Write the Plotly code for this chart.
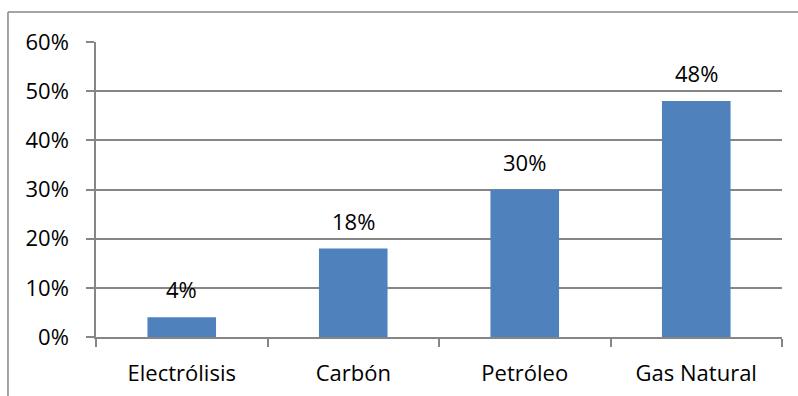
import plotly.graph_objects as go

# Hydrogen production share by source
categories = ["Electrólisis", "Carbón", "Petróleo", "Gas Natural"]
shares = [0.04, 0.18, 0.30, 0.48]
tick_values = [0, 0.1, 0.2, 0.3, 0.4, 0.5, 0.6]
tick_labels = ["0%", "10%", "20%", "30%", "40%", "50%", "60%"]

BAR_COLOR = "#4F81BD"
GRID = "#868686"
FONT = "Open Sans"
FSIZE = 22

fig = go.Figure()
fig.add_trace(go.Bar(
    x=categories,
    y=shares,
    marker=dict(color=BAR_COLOR, line=dict(width=0)),
    width=0.4,
    hoverinfo="skip",
))

# value labels above each bar
for cat, val in zip(categories, shares):
    fig.add_annotation(
        x=cat, y=val, xref="x", yref="y",
        text=f"{round(val * 100)}%",
        showarrow=False, yanchor="bottom", yshift=11,
        font=dict(family=FONT, size=FSIZE, color="#000000"),
    )

# outer chart frame (top and left edges visible)
frame = dict(type="line", xref="paper", yref="paper",
             line=dict(color=GRID, width=1.5))
fig.add_shape(**frame, x0=-0.1283, x1=1.03, y0=1.1017, y1=1.1017)
fig.add_shape(**frame, x0=-0.1283, x1=-0.1283, y0=1.1017, y1=-0.25)

fig.update_layout(
    width=798, height=396,
    margin=dict(l=96, r=16, t=42, b=59),
    paper_bgcolor="white", plot_bgcolor="white",
    showlegend=False,
    font=dict(family=FONT, size=FSIZE, color="#000000"),
    xaxis=dict(
        showline=True, linecolor=GRID, linewidth=1.5,
        ticks="outside", ticklen=8, tickcolor=GRID, tickwidth=1.5,
        tickson="boundaries", showgrid=False,
        tickfont=dict(family=FONT, size=FSIZE),
        ticklabelstandoff=16, automargin=False,
    ),
    yaxis=dict(
        range=[0, 0.6],
        tickvals=tick_values, ticktext=tick_labels,
        showline=True, linecolor=GRID, linewidth=1.5,
        ticks="outside", ticklen=8, tickcolor=GRID, tickwidth=1.5,
        showgrid=True, gridcolor=GRID, gridwidth=1.5,
        zeroline=False,
        tickfont=dict(family=FONT, size=FSIZE),
        ticklabelstandoff=13, automargin=False,
    ),
)

fig.write_html("out.html")
